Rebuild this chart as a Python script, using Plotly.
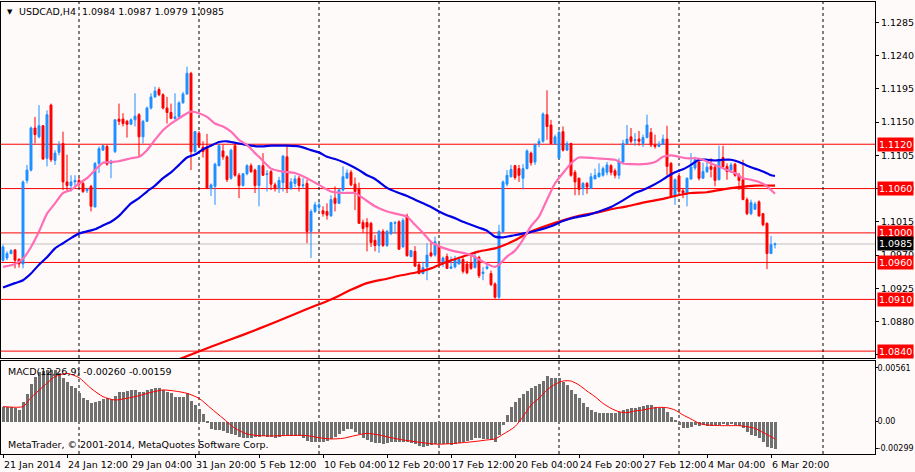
import plotly.graph_objects as go

# USDCAD H4, bar index 0 = 21 Jan 2014 20:00
opens = [1.0963, 1.0966, 1.0972, 1.0977, 1.0964, 1.0958, 1.1071, 1.1085, 1.1142, 1.1130,
         1.1145, 1.1101, 1.1173, 1.1098, 1.1109, 1.1121, 1.1069, 1.1064, 1.1069, 1.1071,
         1.1067, 1.1057, 1.1063, 1.1035, 1.1094, 1.1112, 1.1117, 1.1094, 1.1110, 1.1154,
         1.1154, 1.1151, 1.1147, 1.1153, 1.1160, 1.1130, 1.1151, 1.1169, 1.1184, 1.1194,
         1.1187, 1.1169, 1.1163, 1.1155, 1.1157, 1.1176, 1.1188, 1.1216, 1.1110, 1.1135,
         1.1116, 1.1116, 1.1060, 1.1063, 1.1091, 1.1111, 1.1103, 1.1074, 1.1118, 1.1078,
         1.1064, 1.1080, 1.1091, 1.1085, 1.1064, 1.1091, 1.1079, 1.1083, 1.1065, 1.1060,
         1.1068, 1.1103, 1.1060, 1.1067, 1.1074, 1.1064, 1.1067, 1.1002, 1.1029, 1.1035,
         1.1030, 1.1029, 1.1023, 1.1047, 1.1040, 1.1058, 1.1074, 1.1082, 1.1066, 1.1060,
         1.1014, 1.1014, 1.1013, 1.0990, 1.0983, 1.1002, 1.0983, 1.0999, 1.1013, 1.1015,
         1.0981, 1.1023, 1.0968, 1.0975, 1.0957, 1.0945, 1.0954, 1.0973, 1.0970, 1.0982,
         1.0959, 1.0968, 1.0952, 1.0954, 1.0958, 1.0964, 1.0958, 1.0959, 1.0953, 1.0967,
         1.0945, 1.0952, 1.0945, 1.0931, 1.0913, 1.1002, 1.1066, 1.1076, 1.1091, 1.1087,
         1.1074, 1.1087, 1.1108, 1.1096, 1.1121, 1.1124, 1.1160, 1.1146, 1.1121, 1.1101,
         1.1137, 1.1112, 1.1121, 1.1082, 1.1074, 1.1060, 1.1067, 1.1060, 1.1073, 1.1076,
         1.1078, 1.1082, 1.1091, 1.1084, 1.1078, 1.1096, 1.1121, 1.1130, 1.1125, 1.1127,
         1.1121, 1.1129, 1.1136, 1.1119, 1.1117, 1.1120, 1.1127, 1.1094, 1.1050, 1.1077,
         1.1057, 1.1053, 1.1073, 1.1088, 1.1096, 1.1074, 1.1083, 1.1090, 1.1089, 1.1072,
         1.1102, 1.1090, 1.1085, 1.1093, 1.1078, 1.1072, 1.1045, 1.1026, 1.1032, 1.1042,
         1.1026, 1.1013, 1.0972, 1.0984]
highs = [1.0984, 1.0975, 1.0978, 1.0978, 1.0966, 1.1071, 1.1092, 1.1144, 1.1157, 1.1173,
         1.1146, 1.1166, 1.1175, 1.1112, 1.1124, 1.1137, 1.1106, 1.1078, 1.1078, 1.1075,
         1.1069, 1.1061, 1.1065, 1.1096, 1.1117, 1.1119, 1.1119, 1.1099, 1.1154, 1.1175,
         1.1162, 1.1153, 1.1155, 1.1189, 1.1162, 1.1153, 1.1171, 1.1189, 1.1198, 1.1197,
         1.1189, 1.1184, 1.1175, 1.1189, 1.1178, 1.1191, 1.1225, 1.1218, 1.1138, 1.1138,
         1.1124, 1.1134, 1.1067, 1.1095, 1.1121, 1.1119, 1.1105, 1.1114, 1.1121, 1.1081,
         1.1081, 1.1093, 1.1094, 1.1087, 1.1092, 1.1108, 1.1085, 1.1085, 1.1068, 1.1076,
         1.1105, 1.1118, 1.1074, 1.1078, 1.1077, 1.1074, 1.1072, 1.1032, 1.1042, 1.1042,
         1.1036, 1.1040, 1.1051, 1.1063, 1.1060, 1.1090, 1.1086, 1.1085, 1.1075, 1.1068,
         1.1018, 1.1020, 1.1015, 1.0997, 1.1004, 1.1005, 1.1004, 1.1015, 1.1016, 1.1017,
         1.1020, 1.1026, 1.0977, 1.0982, 1.0961, 1.0961, 1.0986, 1.0987, 1.0995, 1.0985,
         1.0968, 1.0972, 1.0968, 1.0969, 1.0968, 1.0968, 1.0962, 1.0970, 1.0975, 1.0969,
         1.0954, 1.0958, 1.0949, 1.0933, 1.1011, 1.1071, 1.1085, 1.1092, 1.1092, 1.1092,
         1.1093, 1.1113, 1.1110, 1.1121, 1.1128, 1.1163, 1.1193, 1.1153, 1.1133, 1.1139,
         1.1144, 1.1124, 1.1122, 1.1085, 1.1075, 1.1069, 1.1069, 1.1081, 1.1087, 1.1094,
         1.1090, 1.1096, 1.1093, 1.1087, 1.1101, 1.1126, 1.1146, 1.1142, 1.1135, 1.1138,
         1.1133, 1.1160, 1.1142, 1.1133, 1.1124, 1.1133, 1.1145, 1.1096, 1.1074, 1.1081,
         1.1060, 1.1075, 1.1108, 1.1103, 1.1101, 1.1095, 1.1096, 1.1101, 1.1092, 1.1118,
         1.1118, 1.1094, 1.1095, 1.1095, 1.1081, 1.1099, 1.1048, 1.1045, 1.1042, 1.1044,
         1.1027, 1.1014, 1.0996, 1.0987]
lows = [1.0961, 1.0963, 1.0971, 1.0952, 1.0953, 1.0952, 1.1067, 1.1083, 1.1121, 1.1128,
        1.1099, 1.1090, 1.1096, 1.1092, 1.1105, 1.1058, 1.1057, 1.1056, 1.1061, 1.1062,
        1.1054, 1.1054, 1.1029, 1.1035, 1.1081, 1.1111, 1.1091, 1.1074, 1.1108, 1.1146,
        1.1144, 1.1129, 1.1146, 1.1144, 1.1103, 1.1121, 1.1150, 1.1167, 1.1183, 1.1185,
        1.1167, 1.1148, 1.1154, 1.1153, 1.1155, 1.1175, 1.1187, 1.1085, 1.1109, 1.1115,
        1.1102, 1.1060, 1.1050, 1.1038, 1.1090, 1.1099, 1.1069, 1.1072, 1.1076, 1.1047,
        1.1063, 1.1078, 1.1081, 1.1054, 1.1036, 1.1077, 1.1056, 1.1058, 1.1056, 1.1054,
        1.1056, 1.1054, 1.1058, 1.1062, 1.1056, 1.1060, 1.0986, 1.0966, 1.1027, 1.1030,
        1.1022, 1.1018, 1.1022, 1.1029, 1.1039, 1.1056, 1.1073, 1.1063, 1.1031, 1.1012,
        1.1000, 1.0975, 1.0981, 1.0975, 1.0973, 1.0981, 1.0981, 1.0997, 1.0999, 1.0977,
        1.0980, 1.0968, 1.0967, 1.0954, 1.0944, 1.0944, 1.0936, 1.0967, 1.0968, 1.0957,
        1.0954, 1.0951, 1.0951, 1.0952, 1.0957, 1.0945, 1.0944, 1.0950, 1.0952, 1.0939,
        1.0936, 1.0950, 1.0928, 1.0911, 1.0911, 1.1000, 1.1063, 1.1075, 1.1072, 1.1069,
        1.1059, 1.1086, 1.1091, 1.1092, 1.1116, 1.1122, 1.1126, 1.1120, 1.1119, 1.1100,
        1.1110, 1.1111, 1.1076, 1.1051, 1.1051, 1.1051, 1.1053, 1.1060, 1.1073, 1.1075,
        1.1076, 1.1078, 1.1078, 1.1074, 1.1073, 1.1095, 1.1120, 1.1121, 1.1118, 1.1118,
        1.1116, 1.1128, 1.1116, 1.1114, 1.1116, 1.1119, 1.1078, 1.1048, 1.1038, 1.1054,
        1.1047, 1.1036, 1.1072, 1.1085, 1.1071, 1.1073, 1.1081, 1.1075, 1.1063, 1.1071,
        1.1087, 1.1072, 1.1081, 1.1076, 1.1058, 1.1045, 1.1024, 1.1024, 1.1031, 1.1022,
        1.1009, 1.0951, 1.0972, 1.0979]
closes = [1.0981, 1.0972, 1.0976, 1.0963, 1.0958, 1.1069, 1.1085, 1.1142, 1.1133, 1.1145,
          1.1100, 1.1160, 1.1099, 1.1108, 1.1119, 1.1069, 1.1064, 1.1069, 1.1071, 1.1066,
          1.1056, 1.1059, 1.1036, 1.1094, 1.1114, 1.1118, 1.1093, 1.1097, 1.1153, 1.1151,
          1.1148, 1.1147, 1.1153, 1.1158, 1.1130, 1.1151, 1.1169, 1.1184, 1.1192, 1.1187,
          1.1169, 1.1163, 1.1155, 1.1157, 1.1176, 1.1188, 1.1216, 1.1110, 1.1137, 1.1118,
          1.1110, 1.1060, 1.1065, 1.1093, 1.1118, 1.1103, 1.1072, 1.1112, 1.1078, 1.1064,
          1.1080, 1.1091, 1.1083, 1.1064, 1.1091, 1.1078, 1.1080, 1.1066, 1.1060, 1.1071,
          1.1104, 1.1060, 1.1069, 1.1073, 1.1064, 1.1065, 1.1002, 1.1029, 1.1038, 1.1038,
          1.1026, 1.1024, 1.1045, 1.1040, 1.1058, 1.1076, 1.1081, 1.1065, 1.1056, 1.1013,
          1.1006, 1.1008, 1.0987, 1.0983, 1.1002, 1.0983, 1.1002, 1.1014, 1.1014, 1.0978,
          1.1017, 1.0969, 1.0976, 1.0955, 1.0945, 1.0953, 1.0970, 1.0969, 1.0988, 1.0959,
          1.0966, 1.0952, 1.0954, 1.0963, 1.0964, 1.0948, 1.0946, 1.0952, 1.0968, 1.0942,
          1.0947, 1.0954, 1.0930, 1.0913, 1.1002, 1.1069, 1.1078, 1.1086, 1.1075, 1.1078,
          1.1087, 1.1111, 1.1095, 1.1119, 1.1124, 1.1161, 1.1144, 1.1121, 1.1130, 1.1136,
          1.1112, 1.1121, 1.1078, 1.1069, 1.1059, 1.1067, 1.1062, 1.1076, 1.1078, 1.1081,
          1.1087, 1.1092, 1.1082, 1.1078, 1.1096, 1.1121, 1.1127, 1.1124, 1.1126, 1.1124,
          1.1129, 1.1146, 1.1119, 1.1117, 1.1120, 1.1127, 1.1090, 1.1049, 1.1072, 1.1056,
          1.1054, 1.1074, 1.1089, 1.1099, 1.1074, 1.1083, 1.1089, 1.1086, 1.1071, 1.1099,
          1.1090, 1.1083, 1.1092, 1.1078, 1.1071, 1.1045, 1.1026, 1.1041, 1.1039, 1.1023,
          1.1011, 1.0972, 1.0984, 1.0985]
bars = list(range(len(closes)))

# moving averages, sampled points (bar index, price)
pink_ma = [(0, 1.0954), (3, 1.0958), (5, 1.0965), (7, 1.0981), (9, 1.1002), (11, 1.1026),
           (13, 1.1040), (15, 1.1054), (17, 1.1058), (19, 1.1067), (21, 1.1074), (23, 1.1085),
           (25, 1.1095), (27, 1.1096), (29, 1.1097), (32, 1.1101), (34, 1.1103), (36, 1.1112),
           (38, 1.1126), (40, 1.1139), (42, 1.1148), (44, 1.1155), (46, 1.1162), (47, 1.1164),
           (49, 1.1162), (51, 1.1157), (53, 1.1148), (55, 1.1144), (57, 1.1137), (59, 1.1126),
           (61, 1.1119), (63, 1.1108), (64, 1.1103), (67, 1.1087), (70, 1.1083), (73, 1.1081),
           (76, 1.1074), (79, 1.1065), (82, 1.1056), (85, 1.1054), (88, 1.1054), (90, 1.1047),
           (93, 1.1036), (96, 1.1029), (99, 1.1025), (101, 1.1022), (103, 1.1011), (105, 1.1000),
           (107, 1.0988), (109, 1.0982), (111, 1.0978), (113, 1.0975), (115, 1.0973), (117, 1.0970),
           (119, 1.0964), (121, 1.0958), (123, 1.0954), (124, 1.0957), (126, 1.0968), (128, 1.0976),
           (130, 1.0991), (132, 1.1009), (134, 1.1022), (136, 1.1045), (138, 1.1067), (140, 1.1081),
           (142, 1.1094), (144, 1.1102), (148, 1.1101), (151, 1.1100), (153, 1.1099), (155, 1.1094),
           (160, 1.1093), (163, 1.1096), (165, 1.1103), (167, 1.1105), (169, 1.1103), (171, 1.1101),
           (173, 1.1101), (175, 1.1099), (177, 1.1094), (179, 1.1090), (181, 1.1085), (183, 1.1081),
           (185, 1.1074), (187, 1.1072), (189, 1.1069), (191, 1.1063), (193, 1.1053)]
blue_ma = [(0, 1.0926), (3, 1.0932), (5, 1.0936), (7, 1.0945), (9, 1.0957), (11, 1.0967),
           (13, 1.0979), (15, 1.0986), (17, 1.0993), (19, 1.0999), (21, 1.1002), (23, 1.1005),
           (25, 1.1010), (27, 1.1015), (29, 1.1023), (32, 1.1040), (34, 1.1047), (36, 1.1056),
           (38, 1.1064), (40, 1.1074), (42, 1.1082), (44, 1.1092), (46, 1.1102), (48, 1.1106),
           (50, 1.1113), (52, 1.1118), (54, 1.1123), (56, 1.1124), (58, 1.1122), (60, 1.1120),
           (62, 1.1118), (64, 1.1117), (67, 1.1118), (71, 1.1118), (74, 1.1117), (77, 1.1112),
           (79, 1.1109), (81, 1.1103), (83, 1.1100), (85, 1.1096), (87, 1.1091), (89, 1.1085),
           (91, 1.1078), (93, 1.1073), (96, 1.1061), (99, 1.1054), (101, 1.1050), (103, 1.1045),
           (105, 1.1040), (107, 1.1035), (109, 1.1029), (111, 1.1024), (113, 1.1020), (115, 1.1015),
           (117, 1.1011), (119, 1.1007), (121, 1.1003), (123, 1.0995), (125, 1.0994), (127, 1.0996),
           (131, 1.1000), (134, 1.1004), (137, 1.1009), (140, 1.1016), (143, 1.1021), (146, 1.1024),
           (149, 1.1029), (152, 1.1035), (155, 1.1044), (158, 1.1054), (160, 1.1058), (162, 1.1063),
           (164, 1.1069), (166, 1.1076), (168, 1.1082), (170, 1.1086), (172, 1.1092), (174, 1.1099),
           (176, 1.1099), (178, 1.1098), (180, 1.1099), (182, 1.1099), (184, 1.1096), (186, 1.1091),
           (188, 1.1087), (190, 1.1083), (192, 1.1078), (193, 1.1077)]
red_ma = [(44, 1.0829), (52, 1.0846), (60, 1.0862), (68, 1.0879), (76, 1.0897), (82, 1.0910),
          (87, 1.0923), (91, 1.0932), (96, 1.0938), (99, 1.0942), (103, 1.0946), (107, 1.0952),
          (111, 1.0961), (115, 1.0968), (119, 1.0975), (123, 1.0979), (126, 1.0985), (128, 1.0990),
          (132, 1.1002), (136, 1.1010), (140, 1.1017), (144, 1.1023), (148, 1.1027), (152, 1.1032),
          (156, 1.1036), (160, 1.1041), (164, 1.1045), (168, 1.1050), (172, 1.1054), (176, 1.1055),
          (180, 1.1059), (184, 1.1062), (188, 1.1064), (193, 1.1064)]

# MACD(12,26,9) histogram, one value per bar
macd_hist = [0.00139, 0.00139, 0.00139, 0.00123, 0.00108, 0.00179, 0.00253, 0.00345, 0.00416, 0.00462,
             0.00468, 0.00477, 0.00477, 0.00477, 0.00447, 0.00400, 0.00370, 0.00333, 0.00308, 0.00268,
             0.00222, 0.00200, 0.00169, 0.00179, 0.00191, 0.00209, 0.00216, 0.00209, 0.00240, 0.00271,
             0.00277, 0.00283, 0.00293, 0.00293, 0.00271, 0.00277, 0.00293, 0.00302, 0.00308, 0.00308,
             0.00293, 0.00277, 0.00262, 0.00231, 0.00231, 0.00231, 0.00262, 0.00191, 0.00154, 0.00114,
             0.00068, -0.00009, -0.00068, -0.00077, -0.00077, -0.00086, -0.00108, -0.00117, -0.00123, -0.00139,
             -0.00148, -0.00148, -0.00148, -0.00139, -0.00139, -0.00129, -0.00139, -0.00139, -0.00148, -0.00139,
             -0.00123, -0.00123, -0.00129, -0.00129, -0.00129, -0.00148, -0.00179, -0.00185, -0.00185, -0.00185,
             -0.00185, -0.00179, -0.00160, -0.00139, -0.00117, -0.00086, -0.00068, -0.00068, -0.00092, -0.00117,
             -0.00148, -0.00169, -0.00191, -0.00200, -0.00200, -0.00209, -0.00200, -0.00191, -0.00185, -0.00191,
             -0.00185, -0.00191, -0.00200, -0.00209, -0.00222, -0.00231, -0.00222, -0.00216, -0.00209, -0.00209,
             -0.00209, -0.00209, -0.00216, -0.00209, -0.00200, -0.00191, -0.00179, -0.00169, -0.00154, -0.00154,
             -0.00160, -0.00160, -0.00169, -0.00185, -0.00123, -0.00031, 0.00062, 0.00139, 0.00185, 0.00222,
             0.00253, 0.00283, 0.00308, 0.00333, 0.00345, 0.00376, 0.00422, 0.00407, 0.00400, 0.00400,
             0.00370, 0.00339, 0.00293, 0.00253, 0.00216, 0.00169, 0.00139, 0.00108, 0.00092, 0.00077,
             0.00077, 0.00077, 0.00077, 0.00077, 0.00086, 0.00108, 0.00117, 0.00123, 0.00129, 0.00139,
             0.00148, 0.00154, 0.00154, 0.00139, 0.00129, 0.00129, 0.00092, 0.00046, 0.00015, -0.00031,
             -0.00055, -0.00055, -0.00046, -0.00031, -0.00037, -0.00031, -0.00037, -0.00037, -0.00031, -0.00031,
             -0.00025, -0.00031, -0.00025, -0.00031, -0.00037, -0.00062, -0.00092, -0.00123, -0.00129, -0.00148,
             -0.00185, -0.00231, -0.00240, -0.00256]
macd_signal = [(0, 0.00139), (5, 0.00139), (7, 0.00222), (10, 0.00323), (13, 0.00416), (16, 0.00447),
               (19, 0.00407), (22, 0.00308), (25, 0.00231), (28, 0.00200), (31, 0.00216), (34, 0.00240),
               (37, 0.00271), (40, 0.00293), (43, 0.00283), (46, 0.00262), (49, 0.00216), (52, 0.00123),
               (55, 0.00031), (58, -0.00062), (61, -0.00114), (64, -0.00129), (67, -0.00132), (70, -0.00129),
               (73, -0.00126), (76, -0.00129), (79, -0.00148), (82, -0.00160), (85, -0.00154), (88, -0.00129),
               (91, -0.00108), (94, -0.00123), (97, -0.00148), (100, -0.00169), (103, -0.00185), (106, -0.00200),
               (109, -0.00209), (113, -0.00200), (116, -0.00191), (119, -0.00179), (121, -0.00169), (123, -0.00160),
               (125, -0.00117), (128, -0.00046), (130, 0.00046), (132, 0.00154), (134, 0.00216), (136, 0.00293),
               (138, 0.00345), (140, 0.00376), (142, 0.00376), (144, 0.00339), (146, 0.00283), (148, 0.00231),
               (150, 0.00169), (152, 0.00123), (154, 0.00092), (156, 0.00083), (158, 0.00099), (160, 0.00108),
               (162, 0.00123), (164, 0.00132), (166, 0.00129), (168, 0.00108), (170, 0.00062), (172, 0.00025),
               (174, -0.00015), (176, -0.00031), (180, -0.00037), (184, -0.00037), (186, -0.00046), (188, -0.00062),
               (190, -0.00099), (192, -0.00139), (193, -0.00160)]

levels = [1.1120, 1.1060, 1.1000, 1.0960, 1.0910, 1.0840]
bid = 1.0985
week_starts = [19, 49, 79, 109, 139, 169, 205]
date_ticks = [0, 16, 32, 48, 64, 80, 96, 112, 128, 144, 160, 176, 192]
date_labels = ["21 Jan 2014", "24 Jan 12:00", "29 Jan 04:00", "31 Jan 20:00", "5 Feb 12:00",
               "10 Feb 04:00", "12 Feb 20:00", "17 Feb 12:00", "20 Feb 04:00", "24 Feb 20:00",
               "27 Feb 12:00", "4 Mar 04:00", "6 Mar 20:00"]
price_ticks = [1.1285, 1.1240, 1.1195, 1.1150, 1.1105, 1.1060, 1.1015, 1.0970, 1.0925, 1.0880, 1.0835]
macd_labels = ["0.00561", "0.00", "-0.00299"]

FONT = "DejaVu Sans"
BG = "#fffafa"

fig = go.Figure()

fig.add_trace(go.Candlestick(
    x=bars, open=opens, high=highs, low=lows, close=closes,
    increasing=dict(line=dict(color="#1e90ff", width=1), fillcolor="#1e90ff"),
    decreasing=dict(line=dict(color="#ff0000", width=1), fillcolor="#ff0000"),
    whiskerwidth=0, showlegend=False, xaxis="x", yaxis="y"))

for pts, col in [(red_ma, "#ff0000"), (blue_ma, "#0000e6"), (pink_ma, "#ff6eb4")]:
    fig.add_trace(go.Scatter(
        x=[p[0] for p in pts], y=[p[1] for p in pts], mode="lines",
        line=dict(color=col, width=2.2, shape="spline", smoothing=0.6),
        showlegend=False, xaxis="x", yaxis="y"))

fig.add_trace(go.Bar(x=bars, y=macd_hist, width=0.75, marker=dict(color="#707070", line=dict(width=0)),
                     showlegend=False, xaxis="x2", yaxis="y2"))
fig.add_trace(go.Scatter(
    x=[p[0] for p in macd_signal], y=[p[1] for p in macd_signal], mode="lines",
    line=dict(color="#ff0000", width=1, shape="spline", smoothing=0.6),
    showlegend=False, xaxis="x2", yaxis="y2"))

shapes = []
for lv in levels:
    shapes.append(dict(type="line", xref="x domain", yref="y", x0=0, x1=1, y0=lv, y1=lv,
                       line=dict(color="#ff0000", width=1), layer="below"))
shapes.append(dict(type="line", xref="x domain", yref="y", x0=0, x1=1, y0=bid, y1=bid,
                   line=dict(color="#c0c0c0", width=1), layer="below"))
for w in week_starts:
    shapes.append(dict(type="line", xref="x", yref="y domain", x0=w, x1=w, y0=0, y1=1,
                       line=dict(color="black", width=1, dash="3px,3px"), layer="below"))
    shapes.append(dict(type="line", xref="x2", yref="y2 domain", x0=w, x1=w, y0=0, y1=1,
                       line=dict(color="black", width=1, dash="3px,3px"), layer="below"))

annotations = []
for lv in levels:
    annotations.append(dict(xref="paper", yref="y", x=1, y=lv, xanchor="left", xshift=2,
                            text=f"{lv:.4f}", showarrow=False, bgcolor="#ff0000", borderpad=1,
                            font=dict(family=FONT, size=9.5, color="white")))
annotations.append(dict(xref="paper", yref="y", x=1, y=bid, xanchor="left", xshift=2,
                        text=f"{bid:.4f}", showarrow=False, bgcolor="black", borderpad=1,
                        font=dict(family=FONT, size=9.5, color="white")))
for t, lab in zip(date_ticks, date_labels):
    annotations.append(dict(xref="x2", yref="paper", x=t, y=0, xanchor="left", yanchor="top",
                            xshift=-1, yshift=-3, text=lab, showarrow=False,
                            font=dict(family=FONT, size=9.5, color="black")))
annotations.append(dict(xref="paper", yref="paper", x=0, y=1, xanchor="left", yanchor="top",
                        xshift=4, yshift=-4, text="▼", showarrow=False,
                        font=dict(family=FONT, size=7, color="black")))
annotations.append(dict(xref="paper", yref="paper", x=0, y=1, xanchor="left", yanchor="top",
                        xshift=16, yshift=-2, showarrow=False,
                        text=f"USDCAD,H4  {opens[-1]:.4f} {highs[-1]:.4f} {lows[-1]:.4f} {closes[-1]:.4f}",
                        font=dict(family=FONT, size=9.5, color="black")))
annotations.append(dict(xref="paper", yref="y2 domain", x=0, y=1, xanchor="left", yanchor="top",
                        xshift=5, yshift=-3, showarrow=False,
                        text="MACD(12,26,9) -0.00260 -0.00159",
                        font=dict(family=FONT, size=9.5, color="black")))
annotations.append(dict(xref="paper", yref="y2 domain", x=0, y=0, xanchor="left", yanchor="bottom",
                        xshift=5, yshift=2, showarrow=False,
                        text="MetaTrader, © 2001-2014, MetaQuotes Software Corp.",
                        font=dict(family=FONT, size=9.5, color="black")))

axis_common = dict(showgrid=False, zeroline=False, showline=True, linecolor="black", linewidth=1,
                   mirror=True, automargin=False)

fig.update_layout(
    width=915, height=472,
    margin=dict(l=1, r=40, t=2, b=18),
    paper_bgcolor=BG, plot_bgcolor=BG,
    font=dict(family=FONT, size=9.5, color="black"),
    showlegend=False, bargap=0,
    xaxis=dict(domain=[0, 1], anchor="y", range=[-0.5, 218], showticklabels=False, ticks="",
               rangeslider=dict(visible=False), **axis_common),
    xaxis2=dict(domain=[0, 1], anchor="y2", matches="x", range=[-0.5, 218], showticklabels=False,
                ticks="outside", ticklen=3, tickcolor="black", tickvals=date_ticks, **axis_common),
    yaxis=dict(domain=[0.2124, 1], anchor="x", side="right", range=[1.08307, 1.13125],
               tickvals=price_ticks, ticktext=[f"{v:.4f}" for v in price_ticks],
               ticks="outside", ticklen=3, tickcolor="black", **axis_common),
    yaxis2=dict(domain=[0, 0.2058], anchor="x2", side="right", range=[-0.00299, 0.00561],
                tickvals=[0.00499, 0.0, -0.00246], ticktext=macd_labels,
                tickfont=dict(family=FONT, size=8, color="black"), ticklabelstandoff=-2,
                ticks="outside", ticklen=2, tickcolor="black", **axis_common),
    shapes=shapes, annotations=annotations,
)

# the page body has a default 8px margin, drop it so the chart fills the window
fig.write_html("out.html", config={"displayModeBar": False},
               post_script="document.body.style.margin='0';")
